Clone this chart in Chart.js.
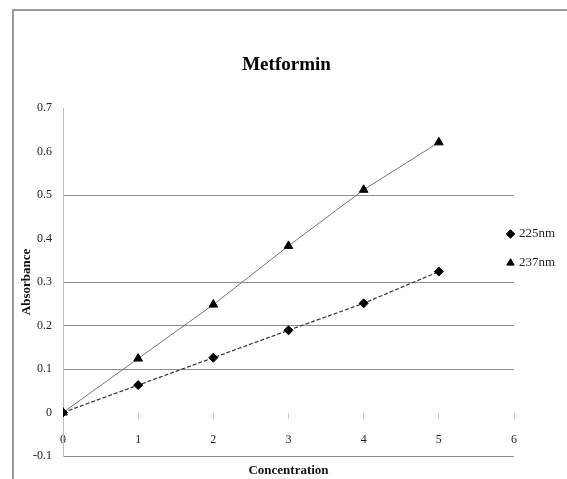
<!DOCTYPE html>
<html>
<head>
<meta charset="utf-8">
<script src="https://cdn.jsdelivr.net/npm/chart.js@4/dist/chart.umd.min.js"></script>
<style>
  html, body { margin: 0; padding: 0; background: #fff; overflow: hidden; }
  #wrap { position: relative; width: 567px; height: 479px; }
  #frame { position: absolute; left: 12px; top: 9px; width: 600px; height: 500px;
           border-left: 2px solid #9a9a9a; border-top: 2px solid #9a9a9a; }
  canvas { position: absolute; left: 0; top: 0; }
</style>
</head>
<body>
<div id="wrap">
  <div id="frame"></div>
  <canvas id="chart" width="567" height="479"></canvas>
</div>
<script>
// Values
const concentration = [0, 1, 2, 3, 4, 5];
const abs225 = [0, 0.063, 0.126, 0.189, 0.251, 0.324];
const abs237 = [0, 0.124, 0.248, 0.383, 0.512, 0.621];
const seriesNames = ['225nm', '237nm'];
const xTicks = [0, 1, 2, 3, 4, 5, 6];
const yTicks = [-0.1, 0, 0.1, 0.2, 0.3, 0.4, 0.5, 0.6, 0.7];
// only these horizontal gridlines show in the original
const yGridShown = [-0.1, 0.1, 0.2, 0.3, 0.5];

Chart.defaults.font.family = "'Liberation Serif', 'Times New Roman', serif";
Chart.defaults.color = '#222';

const toPoints = (ys) => concentration.map((c, i) => ({ x: c, y: ys[i] }));

// the legend overlaps the plot edge a little in the original
const legendNudge = {
  id: 'legendNudge',
  afterLayout(chart) {
    chart.legend.left = chart.chartArea.right - 8.5;
    chart.legend.right = 555;
  }
};

const ctx = document.getElementById('chart').getContext('2d');
const chart = new Chart(ctx, {
  type: 'scatter',
  data: {
    datasets: [{
      label: seriesNames[0],
      data: toPoints(abs225),
      showLine: true,
      borderColor: '#333',
      borderWidth: 1.2,
      borderDash: [4, 2],
      pointStyle: 'rectRot',
      pointRadius: 4.5,
      pointBackgroundColor: '#000',
      pointBorderColor: '#000',
      pointBorderWidth: 1
    }, {
      label: seriesNames[1],
      data: toPoints(abs237),
      showLine: true,
      borderColor: '#777',
      borderWidth: 1,
      pointStyle: 'triangle',
      pointRadius: 5,
      pointBackgroundColor: '#000',
      pointBorderColor: '#000',
      pointBorderWidth: 1
    }]
  },
  plugins: [legendNudge],
  options: {
    responsive: false,
    animation: false,
    events: [],
    layout: { padding: { left: 16, right: 10, top: 0, bottom: 0 } },
    scales: {
      x: {
        type: 'linear',
        position: { y: 0 },
        min: 0,
        max: 6,
        afterBuildTicks: (s) => { s.ticks = xTicks.map(v => ({ value: v })); },
        grid: { drawOnChartArea: false, drawTicks: true, tickLength: 6, color: '#c8c8c8' },
        border: { display: false },
        ticks: { padding: 14, font: { size: 12 } }
      },
      x2: {
        type: 'linear',
        position: 'bottom',
        grid: { display: false, drawTicks: false },
        border: { display: false },
        ticks: { display: false },
        title: {
          display: true, text: 'Concentration', color: '#111',
          font: { size: 13, weight: 'bold' }, padding: { top: 6.4, bottom: 1 }
        }
      },
      y: {
        type: 'linear',
        position: 'left',
        min: -0.1,
        max: 0.7,
        afterBuildTicks: (s) => { s.ticks = yTicks.map(v => ({ value: v })); },
        afterFit: (s) => { s.width = 47; },
        grid: {
          drawTicks: false,
          color: (c) => yGridShown.includes(Number(c.tick.value.toFixed(1))) ? '#8c8c8c' : 'rgba(0,0,0,0)'
        },
        border: { display: true, color: '#bdbdbd' },
        ticks: {
          padding: 11,
          font: { size: 12 },
          callback: (v) => String(Number(v.toFixed(1)))
        },
        title: {
          display: true, text: 'Absorbance', color: '#111',
          font: { size: 13, weight: 'bold' }, padding: { top: 3, bottom: 0 }
        }
      }
    },
    plugins: {
      tooltip: { enabled: false },
      title: {
        display: true,
        text: 'Metformin',
        color: '#000',
        font: { size: 19, weight: 'bold' },
        padding: { top: 54, bottom: 31.2 }
      },
      legend: {
        position: 'right',
        align: 'start',
        maxWidth: 43,
        // empty title only pushes the two entries down to mid height
        title: { display: true, text: ' ', font: { size: 1 }, padding: { top: 226.3, bottom: 0 } },
        labels: {
          usePointStyle: true,
          boxWidth: 10,
          boxHeight: 6,
          padding: 0,
          textAlign: 'right',
          color: '#222',
          font: { size: 13, lineHeight: 1.115 },
          // blank second line gives the wide row spacing of the original
          generateLabels: (ch) => Chart.defaults.plugins.legend.labels.generateLabels(ch)
            .map(item => Object.assign(item, { text: [item.text, ''] }))
        }
      }
    }
  }
});
</script>
</body>
</html>
